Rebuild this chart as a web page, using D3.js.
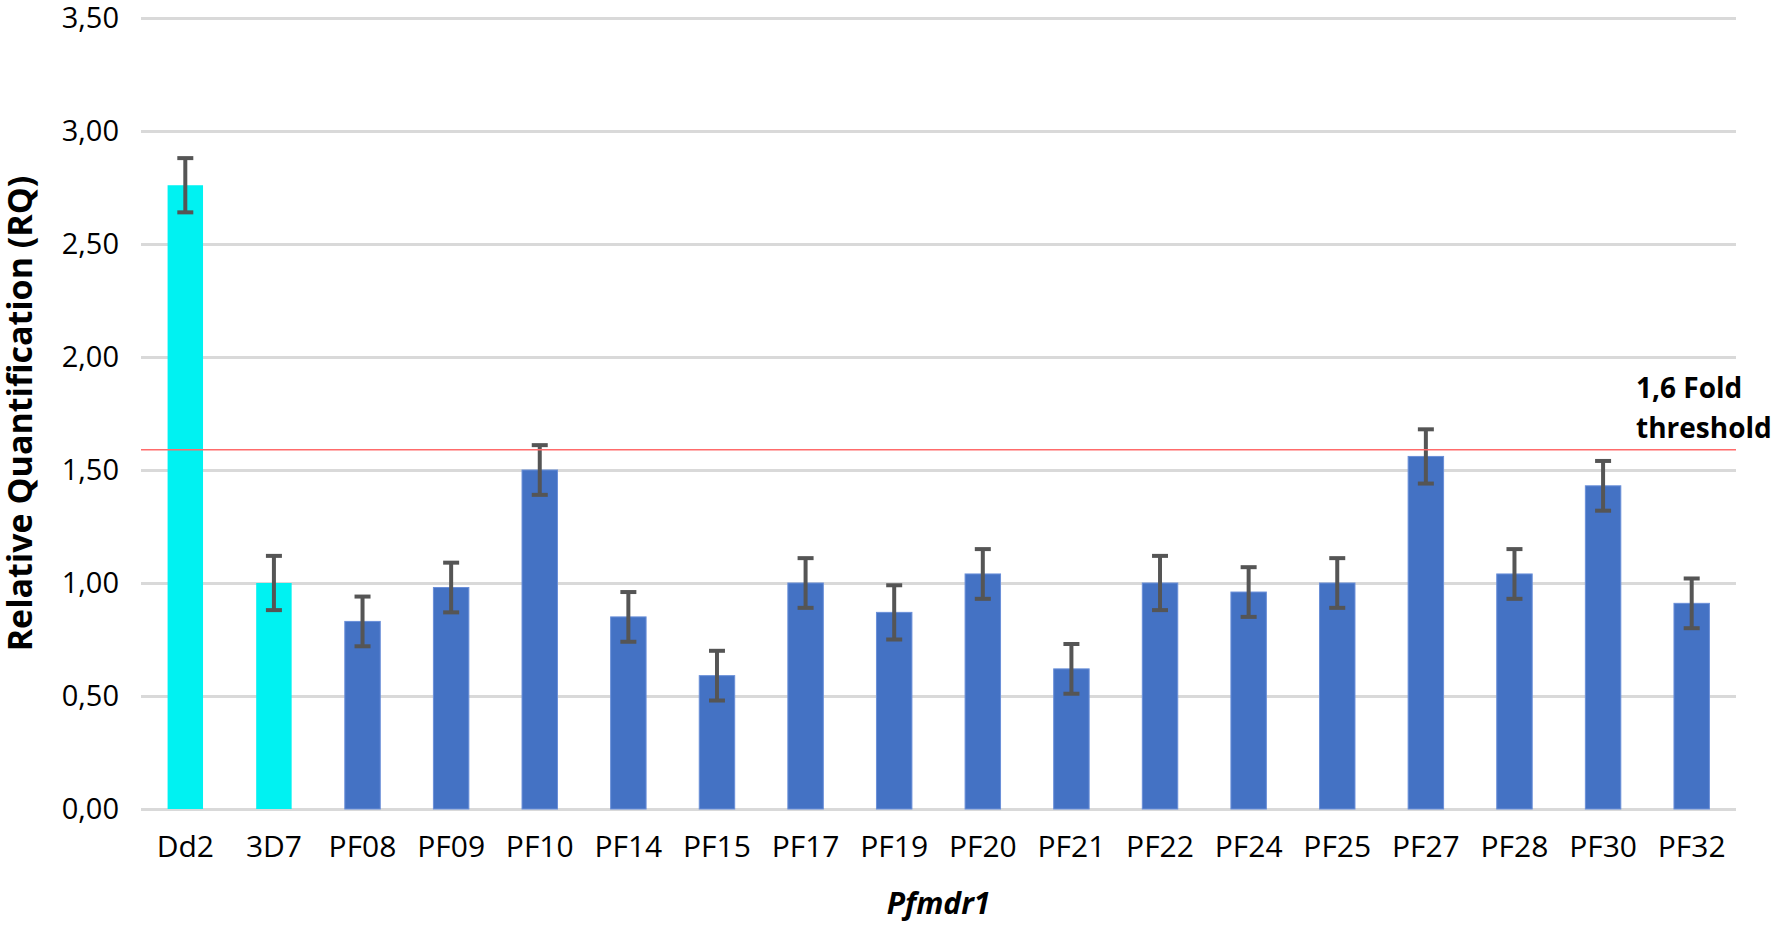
<!DOCTYPE html>
<html>
<head>
<meta charset="utf-8">
<script src="https://cdn.jsdelivr.net/npm/d3@7"></script>
<style>
  html, body { margin: 0; padding: 0; background: #fff; }
  text { font-family: "Open Sans", "Noto Sans", sans-serif; fill: #000; }
</style>
</head>
<body>
<script>
// data
const samples   = ['Dd2', '3D7', 'PF08', 'PF09', 'PF10', 'PF14', 'PF15', 'PF17', 'PF19',
                   'PF20', 'PF21', 'PF22', 'PF24', 'PF25', 'PF27', 'PF28', 'PF30', 'PF32'];
const rq        = [2.76, 1.00, 0.83, 0.98, 1.50, 0.85, 0.59, 1.00, 0.87,
                   1.04, 0.62, 1.00, 0.96, 1.00, 1.56, 1.04, 1.43, 0.91];
const rqError   = [0.12, 0.12, 0.11, 0.11, 0.11, 0.11, 0.11, 0.11, 0.12,
                   0.11, 0.11, 0.12, 0.11, 0.11, 0.12, 0.11, 0.11, 0.11];
const controls  = ['Dd2', '3D7'];
const yTicks    = [0, 0.5, 1, 1.5, 2, 2.5, 3, 3.5];
const threshold = 1.59;

const width  = 1772,
      height = 931,
      margin = { top: 18, right: 36, bottom: 122, left: 141 };

const svg = d3.select('body').append('svg')
  .attr('width', width)
  .attr('height', height);

const x = d3.scaleBand()
  .domain(samples)
  .range([margin.left, width - margin.right])
  .paddingInner(0.6)
  .paddingOuter(0.3);

const y = d3.scaleLinear()
  .domain([0, 3.5])
  .range([height - margin.bottom, margin.top]);

const comma = v => d3.format('.2f')(v).replace('.', ',');

// gridlines + tick labels
const yAxis = svg.append('g')
  .attr('transform', `translate(${margin.left},0)`)
  .call(d3.axisLeft(y)
    .tickValues(yTicks)
    .tickFormat(comma)
    .tickSize(-(width - margin.left - margin.right))
    .tickPadding(22));

yAxis.select('.domain').remove();
yAxis.selectAll('.tick line')
  .attr('stroke', '#d9d9d9')
  .attr('stroke-width', 3);
yAxis.selectAll('.tick text')
  .attr('dy', '0.34em')
  .style('font-size', '29px');

// bars
const data = samples.map((s, i) => ({ s, v: rq[i], e: rqError[i] }));

svg.append('g')
  .selectAll('rect')
  .data(data)
  .join('rect')
  .attr('x', d => x(d.s))
  .attr('y', d => y(d.v))
  .attr('width', x.bandwidth())
  .attr('height', d => y(0) - y(d.v))
  .attr('fill', d => controls.includes(d.s) ? '#00f2f2' : '#4472c4')
  .attr('stroke', d => controls.includes(d.s) ? 'none' : '#6a8fd8')
  .attr('stroke-width', 1);

// error bars
const cap = 8;
const errs = svg.append('g')
  .attr('stroke', '#555')
  .attr('stroke-width', 4)
  .selectAll('g')
  .data(data)
  .join('g')
  .attr('transform', d => `translate(${x(d.s) + x.bandwidth() / 2},0)`);

errs.append('line')
  .attr('y1', d => y(d.v + d.e))
  .attr('y2', d => y(d.v - d.e));
errs.append('line')
  .attr('x1', -cap).attr('x2', cap)
  .attr('y1', d => y(d.v + d.e))
  .attr('y2', d => y(d.v + d.e));
errs.append('line')
  .attr('x1', -cap).attr('x2', cap)
  .attr('y1', d => y(d.v - d.e))
  .attr('y2', d => y(d.v - d.e));

// threshold line
svg.append('line')
  .attr('x1', margin.left)
  .attr('x2', width - margin.right)
  .attr('y1', y(threshold))
  .attr('y2', y(threshold))
  .attr('stroke', '#ff6b6b')
  .attr('stroke-width', 1.5);

const thr = svg.append('text')
  .attr('x', 1636)
  .attr('y', y(threshold) - 52)
  .style('font-size', '28px')
  .style('font-weight', 'bold');
thr.append('tspan').attr('x', 1636).text('1,6 Fold');
thr.append('tspan').attr('x', 1636).attr('dy', 40).text('threshold');

// x labels
svg.append('g')
  .selectAll('text')
  .data(samples)
  .join('text')
  .attr('x', d => x(d) + x.bandwidth() / 2)
  .attr('y', y(0) + 48)
  .attr('text-anchor', 'middle')
  .style('font-size', '30px')
  .text(d => d);

// axis titles
svg.append('text')
  .attr('x', (margin.left + width - margin.right) / 2)
  .attr('y', 914)
  .attr('text-anchor', 'middle')
  .style('font-size', '30px')
  .style('font-weight', 'bold')
  .style('font-style', 'italic')
  .text('Pfmdr1');

svg.append('text')
  .attr('transform', `translate(32,${(margin.top + height - margin.bottom) / 2}) rotate(-90)`)
  .attr('text-anchor', 'middle')
  .style('font-size', '34px')
  .style('font-weight', 'bold')
  .text('Relative Quantification (RQ)');
</script>
</body>
</html>
